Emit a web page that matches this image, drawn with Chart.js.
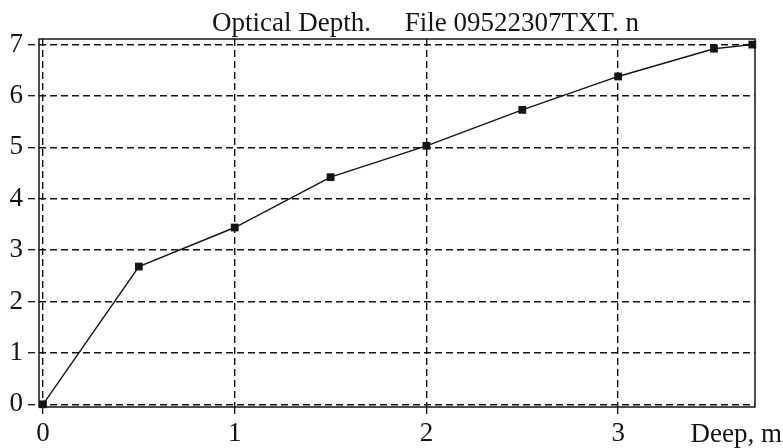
<!DOCTYPE html>
<html>
<head>
<meta charset="utf-8">
<script src="https://cdn.jsdelivr.net/npm/chart.js@4/dist/chart.umd.min.js"></script>
<style>
  html, body { margin: 0; padding: 0; background: #fff; }
  #wrap { width: 783px; height: 448px; }
</style>
</head>
<body>
<div id="wrap"><canvas id="c" width="783" height="448"></canvas></div>
<script>
// Measured profile: depth (m) vs optical depth
const depths = [0, 0.5, 1, 1.5, 2, 2.5, 3, 3.5, 3.7];
const opticalDepth = [0, 2.68, 3.44, 4.42, 5.03, 5.73, 6.38, 6.92, 7.0];
const xTicks = [0, 1, 2, 3];
const yTicks = [0, 1, 2, 3, 4, 5, 6, 7];
const chartTitle = 'Optical Depth.     File 09522307TXT. n';
const xAxisName = 'Deep, m';

const FONT = '"Liberation Serif", "Times New Roman", serif';
const INK = '#141414';

// Frame around the plot area, plus the title and the x-axis name
const decorations = {
  id: 'decorations',
  beforeDatasetsDraw(chart) {
    const { ctx, chartArea: a } = chart;
    ctx.save();
    ctx.strokeStyle = INK;
    ctx.lineWidth = 1.5;
    ctx.setLineDash([]);
    ctx.strokeRect(a.left, a.top, a.right - a.left, a.bottom - a.top);
    ctx.restore();
  },
  afterDraw(chart) {
    const { ctx } = chart;
    ctx.save();
    ctx.fillStyle = INK;
    ctx.font = '27px ' + FONT;
    ctx.textBaseline = 'alphabetic';
    ctx.textAlign = 'left';
    ctx.fillText(chartTitle, 212, 31);
    ctx.textAlign = 'right';
    ctx.fillText(xAxisName, 782, 442);
    ctx.restore();
  }
};

new Chart(document.getElementById('c'), {
  type: 'line',
  data: {
    datasets: [{
      data: depths.map((d, i) => ({ x: d, y: opticalDepth[i] })),
      borderColor: INK,
      borderWidth: 1.4,
      backgroundColor: INK,
      pointStyle: 'rect',
      pointRadius: 5.5,
      pointBorderWidth: 0,
      pointBackgroundColor: INK,
      tension: 0,
      clip: false
    }]
  },
  options: {
    responsive: false,
    animation: false,
    events: [],
    layout: { padding: { top: 39, right: 28, left: 0, bottom: 0 } },
    plugins: { legend: { display: false }, tooltip: { enabled: false }, title: { display: false } },
    scales: {
      x: {
        type: 'linear',
        min: -0.021,
        max: 3.714,
        afterBuildTicks: s => { s.ticks = xTicks.map(v => ({ value: v })); },
        afterFit: s => { s.height = 41; },
        grid: {
          color: INK,
          lineWidth: 1.4,
          tickLength: 7,
          tickColor: INK,
          tickWidth: 1.3
        },
        border: { display: false, dash: [7, 4] },
        ticks: {
          color: INK,
          font: { family: FONT, size: 27 },
          padding: 4,
          maxRotation: 0,
          autoSkip: false
        }
      },
      y: {
        min: -0.053,
        max: 7.109,
        afterBuildTicks: s => { s.ticks = yTicks.map(v => ({ value: v })); },
        afterFit: s => { s.width = 39; },
        grid: {
          color: INK,
          lineWidth: 1.4,
          tickLength: 11,
          tickColor: INK,
          tickWidth: 1.3,
          tickBorderDash: [7, 20]
        },
        border: { display: false, dash: [7, 4] },
        ticks: {
          color: INK,
          font: { family: FONT, size: 27 },
          padding: 5,
          autoSkip: false
        }
      }
    }
  },
  plugins: [decorations]
});
</script>
</body>
</html>
